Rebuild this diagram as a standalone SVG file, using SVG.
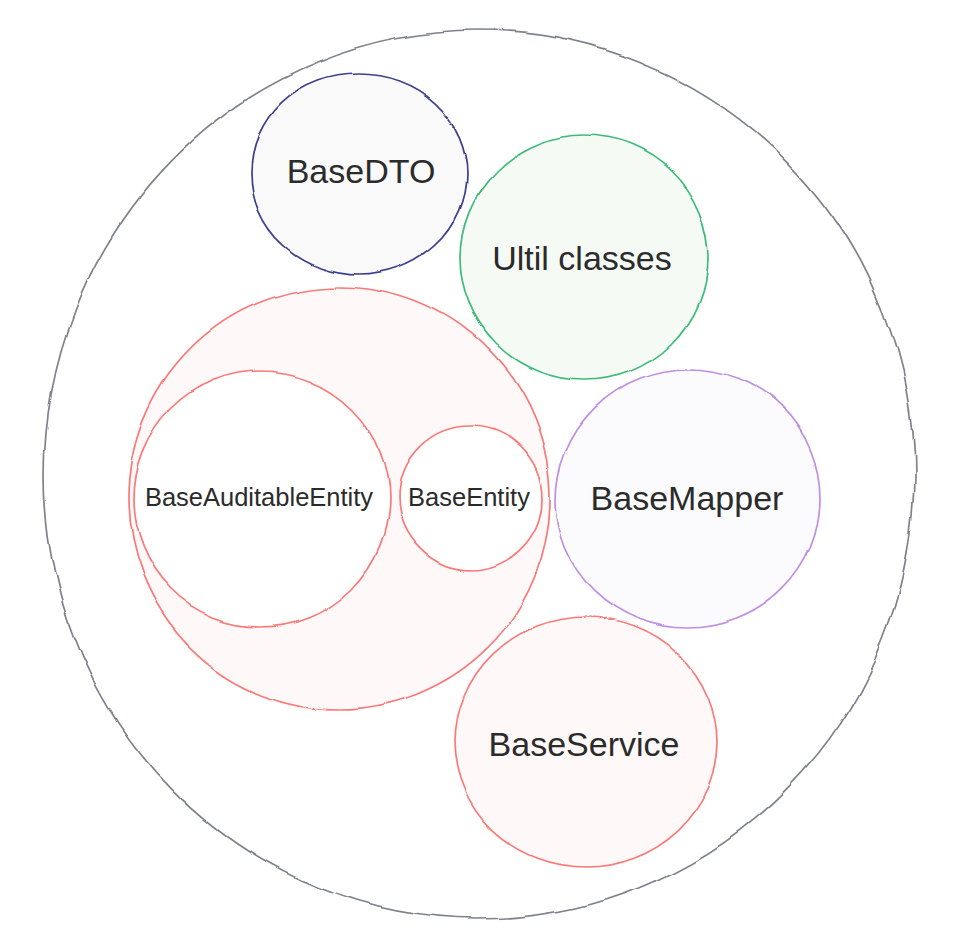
<svg xmlns="http://www.w3.org/2000/svg" width="962" height="946" viewBox="0 0 962 946">
<defs>
<filter id="rough" x="-5%" y="-5%" width="110%" height="110%">
<feTurbulence type="fractalNoise" baseFrequency="0.011" numOctaves="1" seed="3" result="n"/>
<feDisplacementMap in="SourceGraphic" in2="n" scale="9" xChannelSelector="R" yChannelSelector="G"/>
</filter>
<filter id="rough2" x="-5%" y="-5%" width="110%" height="110%">
<feTurbulence type="fractalNoise" baseFrequency="0.018" numOctaves="1" seed="7" result="n"/>
<feDisplacementMap in="SourceGraphic" in2="n" scale="10" xChannelSelector="R" yChannelSelector="G"/>
</filter>
</defs>
<style>
.lbl{font-family:"Liberation Sans",Arial,sans-serif;font-size:34px;fill:#2b2b2b;text-anchor:middle}
.sm{font-family:"Liberation Sans",Arial,sans-serif;font-size:25.5px;fill:#2b2b2b;text-anchor:middle}
.shape{stroke-width:1.7}
</style>
<rect width="962" height="946" fill="#ffffff"/>
<g id="outer">
<ellipse cx="479" cy="475" rx="435" ry="444" fill="none" stroke="#7f818c" class="shape" filter="url(#rough2)"/>
</g>
<g id="basedto">
<ellipse cx="359" cy="174" rx="108" ry="100" fill="#f9f9f9" stroke="#3d3f8e" class="shape" filter="url(#rough)"/>
<text x="361" y="183" class="lbl">BaseDTO</text>
</g>
<g id="util">
<ellipse cx="584" cy="258" rx="124" ry="122" fill="#f5faf5" stroke="#3dbb78" class="shape" filter="url(#rough)"/>
<text x="582" y="270" class="lbl">Ultil classes</text>
</g>
<g id="entities">
<ellipse cx="339" cy="498" rx="211" ry="211" fill="#fff8f8" stroke="#fa7a78" class="shape" filter="url(#rough)"/>
<g id="baseauditableentity">
<ellipse cx="261" cy="499" rx="128" ry="128" fill="#ffffff" stroke="#fa7a78" class="shape" filter="url(#rough)"/>
<text x="259" y="506" class="sm">BaseAuditableEntity</text>
</g>
<g id="baseentity">
<ellipse cx="470" cy="498" rx="72" ry="72" fill="#ffffff" stroke="#fa7a78" class="shape" filter="url(#rough)"/>
<text x="469" y="506" class="sm">BaseEntity</text>
</g>
</g>
<g id="basemapper">
<ellipse cx="688" cy="499" rx="132" ry="129" fill="#fbfbfe" stroke="#c08ee2" class="shape" filter="url(#rough)"/>
<text x="687" y="510" class="lbl">BaseMapper</text>
</g>
<g id="baseservice">
<ellipse cx="586" cy="742" rx="131" ry="125" fill="#fff8f8" stroke="#fa7a78" class="shape" filter="url(#rough)"/>
<text x="584" y="756" class="lbl">BaseService</text>
</g>
</svg>
